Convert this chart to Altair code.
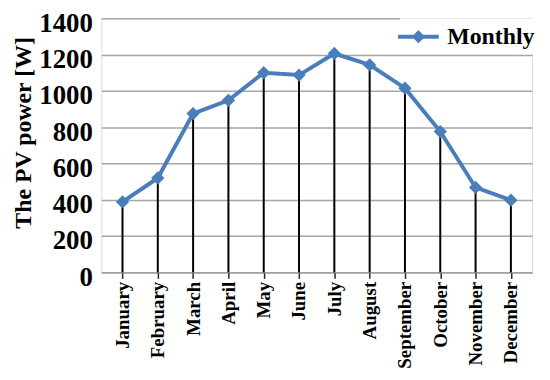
import altair as alt
import pandas as pd

months = ["January", "February", "March", "April", "May", "June", "July",
          "August", "September", "October", "November", "December"]
power = [388, 520, 875, 948, 1100, 1087, 1206, 1143, 1015, 776, 468, 398]
series = ["Monthly"] * len(months)
y_ticks = [0, 200, 400, 600, 800, 1000, 1200, 1400]

df = pd.DataFrame({"month": months, "power": power, "series": series})

FONT = "Liberation Serif"
BLUE = "#4a7ebb"

x_enc = alt.X("month:N", sort=months,
              scale=alt.Scale(type="point", padding=0.6),
              axis=alt.Axis(title=None, labelAngle=-90, labelFont=FONT,
                            labelFontSize=19, labelFontWeight="bold",
                            labelColor="black", labelPadding=3,
                            ticks=True, tickSize=6, tickColor="#222",
                            tickWidth=1.5, domainColor="#999",
                            domainWidth=1.5, grid=False))
y_enc = alt.Y("power:Q",
              scale=alt.Scale(domain=[0, 1400], nice=False),
              axis=alt.Axis(title="The PV power [W]", values=y_ticks,
                            format="d",
                            titleFont=FONT, titleFontSize=24,
                            titleFontWeight="bold", titleColor="black",
                            titleX=-66, titleY=115,
                            labelFont=FONT, labelFontSize=27,
                            labelFontWeight="bold", labelColor="black",
                            labelPadding=9, labelOffset=5,
                            ticks=False, domain=False,
                            grid=True, gridColor="#a6a6a6", gridWidth=1.5))

base = alt.Chart(df)

drops = base.mark_rule(color="black", strokeWidth=2).encode(
    x=x_enc, y=y_enc, y2=alt.datum(0))

line = base.mark_line(color=BLUE, strokeWidth=4).encode(x=x_enc, y=y_enc)

legend_path = ("M-1.6,-0.156L-0.364,-0.156L0,-0.52L0.364,-0.156L1.6,-0.156"
               "L1.6,0.156L0.364,0.156L0,0.52L-0.364,0.156L-1.6,0.156Z")

points = base.mark_point(shape="diamond", filled=True, size=180,
                         opacity=1).encode(
    x=x_enc, y=y_enc,
    color=alt.Color("series:N",
                    scale=alt.Scale(range=[BLUE]),
                    legend=alt.Legend(title=None, orient="none",
                                      legendX=301, legendY=0,
                                      symbolType=legend_path,
                                      symbolSize=656,
                                      symbolFillColor=BLUE,
                                      symbolStrokeWidth=0,
                                      labelFont=FONT, labelFontSize=24,
                                      labelFontWeight="bold",
                                      labelColor="black", labelOffset=16,
                                      fillColor="white", padding=5.5)))

chart = alt.layer(drops, line, points).properties(
    width=434, height=256,
    autosize=alt.AutoSizeParams(type="none"),
    padding={"left": 94, "top": 9, "right": 10, "bottom": 99},
).configure_view(stroke=None).configure(background="white")

chart.save("out.html", embed_options={"renderer": "svg", "actions": False})
